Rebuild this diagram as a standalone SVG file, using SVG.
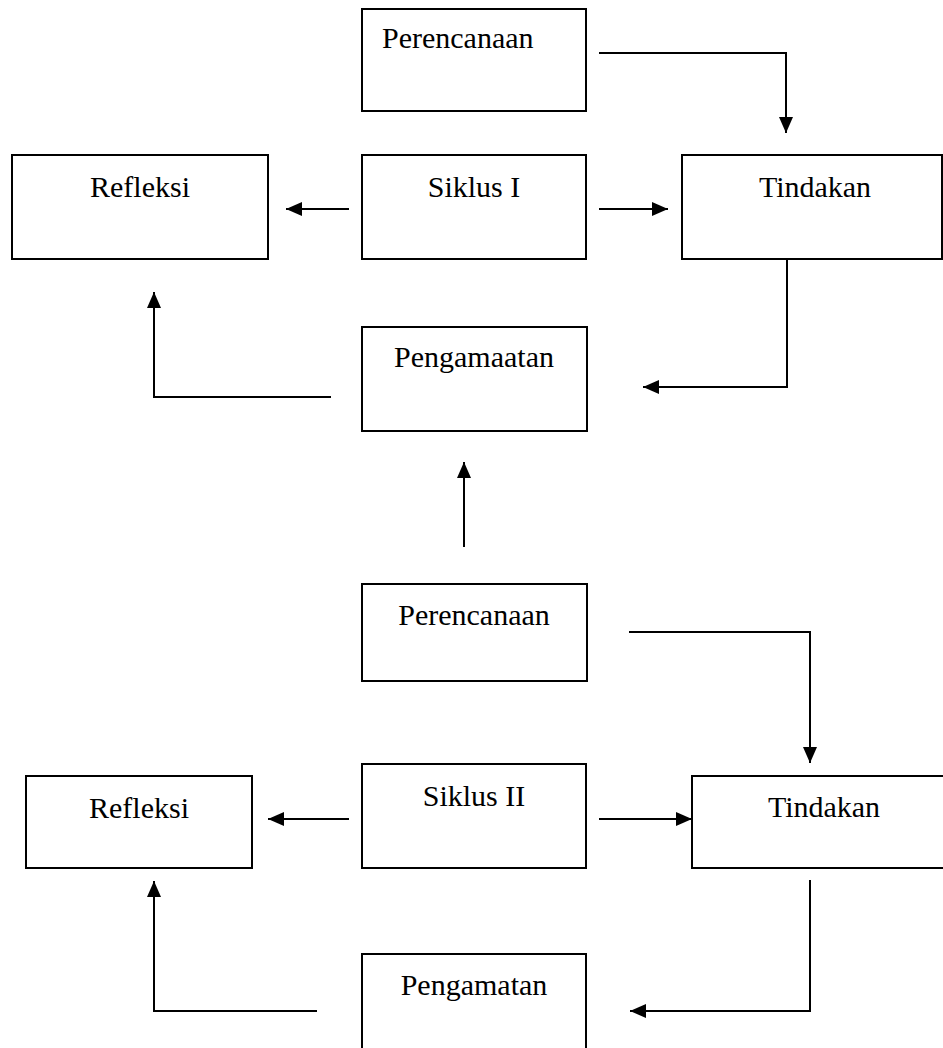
<svg xmlns="http://www.w3.org/2000/svg" width="943" height="1048" viewBox="0 0 943 1048">
<style>
.box{fill:#fff;stroke:#000;stroke-width:2}
.lbl{font-family:"Liberation Serif","Times New Roman",serif;font-size:30px;fill:#000}
.c{text-anchor:middle}
.conn{fill:none;stroke:#000;stroke-width:2}
</style>
<defs>
<marker id="ah" markerUnits="userSpaceOnUse" markerWidth="16" markerHeight="14" refX="16" refY="7" orient="auto">
<path d="M0,0 L16,7 L0,14 Z" fill="#000"/>
</marker>
</defs>
<rect width="943" height="1048" fill="#fff"/>
<g id="perencanaan1"><rect class="box" x="362" y="9" width="224" height="102"/><text class="lbl" x="382" y="48">Perencanaan</text></g>
<g id="refleksi1"><rect class="box" x="12" y="155" width="256" height="104"/><text class="lbl c" x="140" y="197">Refleksi</text></g>
<g id="siklus1"><rect class="box" x="362" y="155" width="224" height="104"/><text class="lbl c" x="474" y="197">Siklus I</text></g>
<g id="tindakan1"><rect class="box" x="682" y="155" width="260" height="104"/><text class="lbl c" x="815" y="197">Tindakan</text></g>
<g id="pengamaatan1"><rect class="box" x="362" y="327" width="225" height="104"/><text class="lbl c" x="474" y="367">Pengamaatan</text></g>
<g id="perencanaan2"><rect class="box" x="362" y="584" width="225" height="97"/><text class="lbl c" x="474" y="625">Perencanaan</text></g>
<g id="refleksi2"><rect class="box" x="26" y="776" width="226" height="92"/><text class="lbl c" x="139" y="818">Refleksi</text></g>
<g id="siklus2"><rect class="box" x="362" y="764" width="224" height="104"/><text class="lbl c" x="474" y="806">Siklus II</text></g>
<g id="tindakan2"><rect class="box" x="692" y="776" width="252" height="92"/><text class="lbl c" x="824" y="817">Tindakan</text></g>
<g id="pengamatan2"><rect class="box" x="362" y="954" width="224" height="120"/><text class="lbl c" x="474" y="995">Pengamatan</text></g>
<g id="connectors">
<path class="conn" d="M599,53 H786 V133" marker-end="url(#ah)"/>
<path class="conn" d="M349,209 H286" marker-end="url(#ah)"/>
<path class="conn" d="M599,209 H668" marker-end="url(#ah)"/>
<path class="conn" d="M787,259 V387 H643" marker-end="url(#ah)"/>
<path class="conn" d="M331,397 H154 V292" marker-end="url(#ah)"/>
<path class="conn" d="M464,547 V462" marker-end="url(#ah)"/>
<path class="conn" d="M629,632 H810 V763" marker-end="url(#ah)"/>
<path class="conn" d="M349,819 H268" marker-end="url(#ah)"/>
<path class="conn" d="M599,819 H692" marker-end="url(#ah)"/>
<path class="conn" d="M810,880 V1011 H630" marker-end="url(#ah)"/>
<path class="conn" d="M317,1011 H154 V881" marker-end="url(#ah)"/>
</g>
</svg>
